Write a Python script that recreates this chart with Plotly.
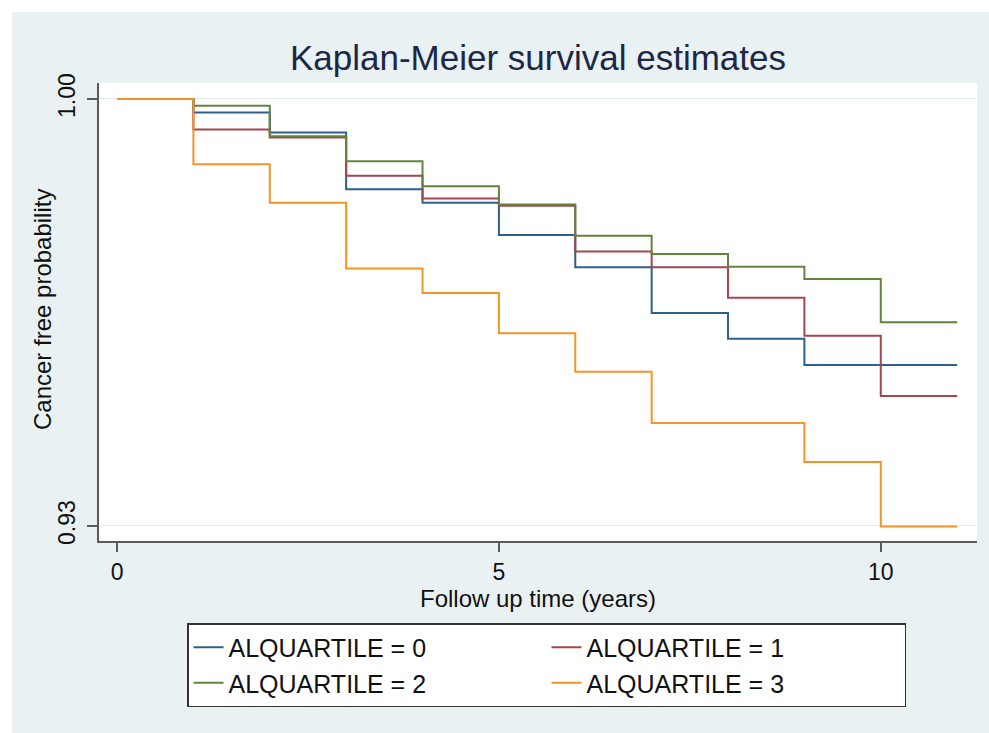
import plotly.graph_objects as go

# ---- data ----
times = [0, 1, 2, 3, 4, 5, 6, 7, 8, 9, 10]
end_time = 11
groups = ["ALQUARTILE = 0", "ALQUARTILE = 1", "ALQUARTILE = 2", "ALQUARTILE = 3"]
surv_q0 = [1.0, 0.9978, 0.9945, 0.9852, 0.9830, 0.9777, 0.9724, 0.9649, 0.9607, 0.9564, 0.9564]
surv_q1 = [1.0, 0.9950, 0.9937, 0.9874, 0.9837, 0.9825, 0.9750, 0.9724, 0.9674, 0.9612, 0.9513]
surv_q2 = [1.0, 0.9989, 0.9939, 0.9898, 0.9857, 0.9827, 0.9776, 0.9746, 0.9725, 0.9705, 0.9634]
surv_q3 = [1.0, 0.9893, 0.9830, 0.9722, 0.9682, 0.9616, 0.9553, 0.9469, 0.9469, 0.9405, 0.9299]
colors = ["#2f5f8a", "#a4464f", "#62823e", "#f0952a"]
y_tickvals = [0.93, 1.00]
y_ticktext = ["0.93", "1.00"]
x_tickvals = [0, 5, 10]

FONT = "Liberation Sans, Arial, sans-serif"
BG = "#EAF1F3"

fig = go.Figure()
for name, surv, col in zip(groups, [surv_q0, surv_q1, surv_q2, surv_q3], colors):
    fig.add_trace(go.Scatter(
        x=times + [end_time], y=surv + [surv[-1]],
        mode="lines", line=dict(color=col, width=2, shape="hv"),
        name=name,
    ))

W, H = 989, 733
# plot area in screen pixels: x 99..977, y 83..541
L, T = 99, 83
R = W - 977
B = H - 541
pw, ph = W - L - R, H - T - B

def px_x(p):  # screen px -> paper fraction
    return (p - L) / pw

def px_y(p):
    return (H - B - p) / ph

fig.update_layout(
    width=W, height=H,
    margin=dict(l=L, r=R, t=T, b=B, pad=0),
    paper_bgcolor=BG, plot_bgcolor="white",
    font=dict(family=FONT, color="#111111", size=23),
    title=dict(text="Kaplan-Meier survival estimates", x=0.5, xref="paper",
               xanchor="center", y=1 - 58 / H, yanchor="middle",
               font=dict(size=35, color="#1c2846", family=FONT)),
    xaxis=dict(range=[-0.236, 11.26], tickvals=x_tickvals, showgrid=False, zeroline=False,
               showline=True, linecolor="#5a5a5a", linewidth=2, ticks="outside", ticklen=9,
               tickwidth=2, tickcolor="#5a5a5a", tickfont=dict(size=23, color="#111111"),
               title=dict(text="Follow up time (years)", font=dict(size=24), standoff=2),
               fixedrange=True),
    yaxis=dict(range=[0.92754, 1.00262], tickvals=y_tickvals, ticktext=y_ticktext,
               tickangle=-90, showgrid=True, gridcolor="#E3EDF1", gridwidth=1, zeroline=False,
               showline=True, linecolor="#5a5a5a", linewidth=2, ticks="outside", ticklen=10,
               tickwidth=2, tickcolor="#5a5a5a", tickfont=dict(size=23, color="#111111"),
               ticklabelstandoff=3,
               fixedrange=True),
    legend=dict(orientation="h", x=px_x(187), y=px_y(623), xanchor="left", yanchor="top",
                bgcolor="white", bordercolor="#333333", borderwidth=1.5,
                font=dict(size=25, family=FONT, color="#111111"),
                entrywidth=313, entrywidthmode="pixels", traceorder="normal",
                itemwidth=30, tracegroupgap=0),
    showlegend=True,
)

# y-axis title
fig.add_annotation(text="Cancer free probability", textangle=-90,
                   xref="paper", yref="paper", x=px_x(42), y=px_y(310),
                   xanchor="center", yanchor="middle", showarrow=False,
                   font=dict(size=24, family=FONT, color="#111111"))

# white strips at the top and left edges of the image
fig.add_shape(type="rect", xref="paper", yref="paper", layer="below",
              x0=px_x(0), x1=px_x(W), y0=px_y(12), y1=px_y(0),
              fillcolor="white", line=dict(width=0))
fig.add_shape(type="rect", xref="paper", yref="paper", layer="below",
              x0=px_x(0), x1=px_x(12), y0=px_y(H), y1=px_y(0),
              fillcolor="white", line=dict(width=0))

fig.write_html(
    "out.html",
    config={"displayModeBar": False},
    post_script="document.body.style.margin='0';document.body.style.overflow='hidden';",
)
